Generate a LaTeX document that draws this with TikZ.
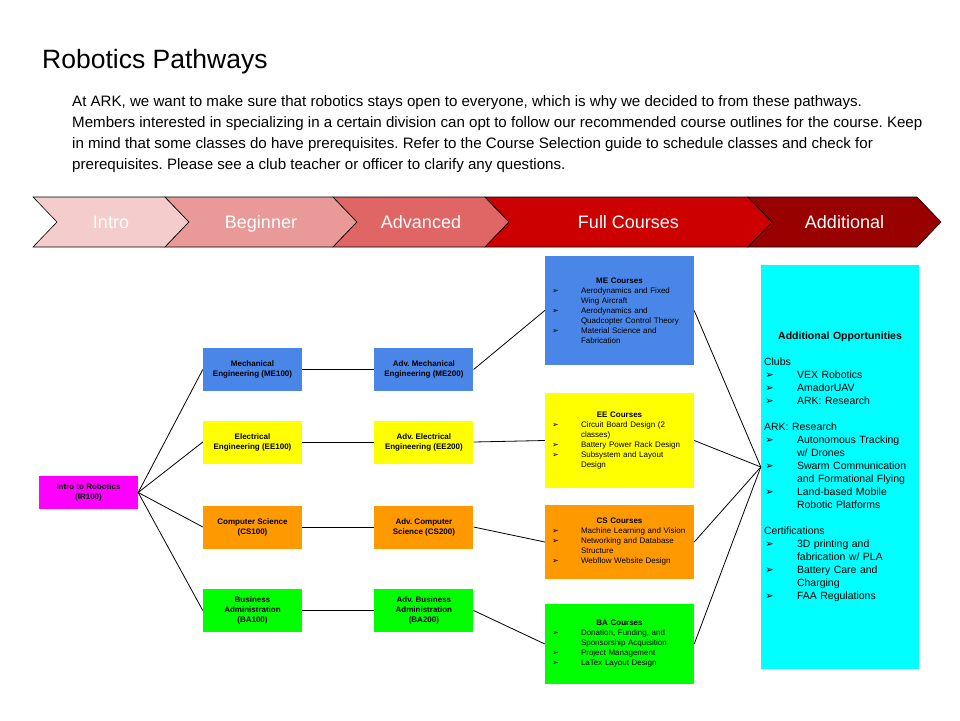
\documentclass[tikz,border=0pt]{standalone}
\usepackage{fontspec}
\setmainfont{Liberation Sans}
\newfontfamily\symfont{DejaVu Sans}
\usepackage{tikz}
\usetikzlibrary{positioning}
\frenchspacing
\definecolor{introred}{HTML}{F4CCCC}
\definecolor{beginred}{HTML}{EA9999}
\definecolor{advred}{HTML}{E06666}
\definecolor{fullred}{HTML}{CC0000}
\definecolor{extrared}{HTML}{990000}
\definecolor{ircolor}{HTML}{FF00FF}
\definecolor{mecolor}{HTML}{4A86E8}
\definecolor{eecolor}{HTML}{FFFF00}
\definecolor{cscolor}{HTML}{FF9900}
\definecolor{bacolor}{HTML}{00FF00}
\definecolor{addcolor}{HTML}{00FFFF}
\newcommand{\arrowbul}{{\symfont ➢}}
\newcommand{\crsitem}{\makebox[36pt][l]{\hspace{7pt}\arrowbul}}
\newcommand{\crsmore}{\hspace*{36pt}}
\newcommand{\additem}{\makebox[33pt][l]{\hspace{1pt}\arrowbul}}
\newcommand{\addmore}{\hspace*{33pt}}
\tikzset{
  chevron/.style={draw=black, line width=0.6pt, line join=miter},
  stagelabel/.style={text=white, anchor=base, inner sep=0pt, font=\fontsize{18}{20}\selectfont},
  pathbox/.style={minimum width=99pt, minimum height=43pt, inner sep=0pt, align=center,
    font=\fontsize{8}{10}\selectfont\bfseries},
  coursebox/.style={minimum width=149pt, text width=149pt, inner xsep=0pt, inner ysep=0pt,
    align=left, font=\fontsize{8}{10}\selectfont},
  link/.style={draw=black, line width=0.8pt}
}

\begin{document}
\begin{tikzpicture}[x=1pt, y=-1pt]
  \useasboundingbox[fill=white] (0,0) rectangle (960,720);

  % heading and intro text
  \node (title) [anchor=base west, inner sep=0pt, font=\fontsize{26.5}{30}\selectfont] at (42,68) {Robotics Pathways};
  \node (blurb) [anchor=north west, inner sep=0pt, align=left, font=\fontsize{15.1}{21}\selectfont] at (72,95)
    {At ARK, we want to make sure that robotics stays open to everyone, which is why we decided to from these pathways.\\
     Members interested in specializing in a certain division can opt to follow our recommended course outlines for the course. Keep\\
     in mind that some classes do have prerequisites. Refer to the Course Selection guide to schedule classes and check for\\
     prerequisites. Please see a club teacher or officer to clarify any questions.};

  % stage banner
  \foreach \xa/\xb/\col/\lbl [count=\i] in {33/165/introred/Intro, 165/333/beginred/Beginner,
      333/485/advred/Advanced, 485/748/fullred/Full Courses, 748/917/extrared/Additional} {
    \draw[chevron, fill=\col] (\xa,197) -- (\xb,197) -- ++(24,25) -- (\xb,247) -- (\xa,247) -- ++(24,-25) -- cycle;
    \node (stage\i) [stagelabel] at ({(\xa+\xb)/2+12},228.5) {\lbl};
  }

  % pathway boxes
  \node (ir)  [pathbox, fill=ircolor, minimum height=33pt] at (88.5,492.5) {Intro to Robotics\\(IR100)};
  \node (me1) [pathbox, fill=mecolor] at (252.5,369.5) {Mechanical\\Engineering (ME100)};
  \node (ee1) [pathbox, fill=eecolor] at (252.5,442)   {Electrical\\Engineering (EE100)};
  \node (cs1) [pathbox, fill=cscolor] at (252.5,527)   {Computer Science\\(CS100)};
  \node (ba1) [pathbox, fill=bacolor] at (252.5,610.5) {Business\\Administration\\(BA100)};
  \node (me2) [pathbox, fill=mecolor, right=72pt of me1] {Adv. Mechanical\\Engineering (ME200)};
  \node (ee2) [pathbox, fill=eecolor, right=72pt of ee1] {Adv. Electrical\\Engineering (EE200)};
  \node (cs2) [pathbox, fill=cscolor, right=72pt of cs1] {Adv. Computer\\Science (CS200)};
  \node (ba2) [pathbox, fill=bacolor, right=72pt of ba1] {Adv. Business\\Administration\\(BA200)};

  % full course boxes
  \node (mec) [coursebox, fill=mecolor, minimum height=109pt] at (619.5,310.5)
    {\makebox[149pt][c]{\textbf{ME Courses}}\\
     \crsitem Aerodynamics and Fixed\\ \crsmore Wing Aircraft\\
     \crsitem Aerodynamics and\\ \crsmore Quadcopter Control Theory\\
     \crsitem Material Science and\\ \crsmore Fabrication};
  \node (eec) [coursebox, fill=eecolor, minimum height=95pt] at (619.5,440.5)
    {\makebox[149pt][c]{\textbf{EE Courses}}\\
     \crsitem Circuit Board Design (2\\ \crsmore classes)\\
     \crsitem Battery Power Rack Design\\
     \crsitem Subsystem and Layout\\ \crsmore Design};
  \node (csc) [coursebox, fill=cscolor, minimum height=74pt] at (619.5,542)
    {\makebox[149pt][c]{\textbf{CS Courses}}\\
     \crsitem Machine Learning and Vision\\
     \crsitem Networking and Database\\ \crsmore Structure\\
     \crsitem Webflow Website Design};
  \node (bac) [coursebox, fill=bacolor, minimum height=80pt] at (619.5,644)
    {\makebox[149pt][c]{\textbf{BA Courses}}\\
     \crsitem Donation, Funding, and\\ \crsmore Sponsorship Acquisition\\
     \crsitem Project Management\\
     \crsitem LaTex Layout Design};

  % additional opportunities
  \node (add) [fill=addcolor, minimum width=158pt, text width=152pt, inner xsep=3pt, inner ysep=0pt,
      minimum height=404pt, align=left, font=\fontsize{10.5}{13}\selectfont] at (840,467)
    {\makebox[152pt][c]{\textbf{Additional Opportunities}}\\[13pt]
     Clubs\\
     \additem VEX Robotics\\
     \additem AmadorUAV\\
     \additem ARK: Research\\[13pt]
     ARK: Research\\
     \additem Autonomous Tracking\\ \addmore w/ Drones\\
     \additem Swarm Communication\\ \addmore and Formational Flying\\
     \additem Land-based Mobile\\ \addmore Robotic Platforms\\[13pt]
     Certifications\\
     \additem 3D printing and\\ \addmore fabrication w/ PLA\\
     \additem Battery Care and\\ \addmore Charging\\
     \additem FAA Regulations};

  % connectors
  \foreach \a/\b in {ir/me1, ir/ee1, ir/cs1, ir/ba1, me1/me2, ee1/ee2, cs1/cs2, ba1/ba2,
      me2/mec, ee2/eec, cs2/csc, ba2/bac, mec/add, eec/add, csc/add, bac/add}
    \draw[link] (\a.east) -- (\b.west);
\end{tikzpicture}
\end{document}
